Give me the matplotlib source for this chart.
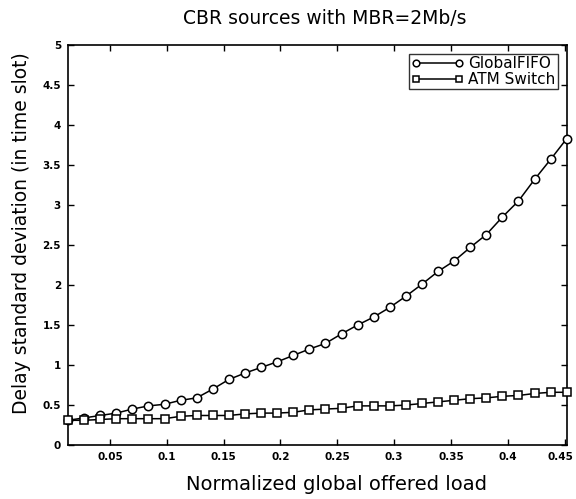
import matplotlib
matplotlib.use("Agg")
import matplotlib.pyplot as plt
import matplotlib.transforms as mtransforms

load = [0.0131, 0.0273, 0.0414, 0.0556, 0.0697, 0.0839, 0.0980, 0.1122,
        0.1263, 0.1405, 0.1546, 0.1688, 0.1829, 0.1971, 0.2112, 0.2254,
        0.2395, 0.2537, 0.2678, 0.2820, 0.2961, 0.3103, 0.3244, 0.3386,
        0.3527, 0.3669, 0.3810, 0.3952, 0.4093, 0.4235, 0.4376, 0.4518]
global_fifo = [0.31, 0.34, 0.37, 0.40, 0.45, 0.49, 0.51, 0.56,
               0.59, 0.70, 0.82, 0.90, 0.97, 1.04, 1.12, 1.20,
               1.27, 1.39, 1.50, 1.60, 1.72, 1.86, 2.01, 2.17,
               2.30, 2.47, 2.63, 2.85, 3.05, 3.32, 3.57, 3.83]
atm_switch = [0.31, 0.31, 0.32, 0.33, 0.33, 0.33, 0.33, 0.36,
              0.37, 0.37, 0.37, 0.39, 0.40, 0.40, 0.41, 0.44,
              0.45, 0.46, 0.49, 0.49, 0.49, 0.50, 0.52, 0.54,
              0.56, 0.58, 0.59, 0.61, 0.62, 0.645, 0.66, 0.66]
xticks = [0.05, 0.1, 0.15, 0.2, 0.25, 0.3, 0.35, 0.4, 0.45]
yticks = [0, 0.5, 1, 1.5, 2, 2.5, 3, 3.5, 4, 4.5, 5]

plt.rcParams['font.family'] = ['DejaVu Sans']
fig = plt.figure(figsize=(5.76, 4.99), dpi=100)
ax = fig.add_axes([0.118, 0.108, 0.866, 0.802])

ax.plot(load, global_fifo, '-o', color='black', lw=1.1, ms=6,
        mfc='white', mec='black', mew=1.1, label='GlobalFIFO', clip_on=False, zorder=3)
ax.plot(load, atm_switch, '-s', color='black', lw=1.1, ms=5.5,
        mfc='white', mec='black', mew=1.1, label='ATM Switch', clip_on=False, zorder=3)

ax.set_xlim(load[0], load[-1])
ax.set_ylim(0, 5)
ax.set_xticks(xticks)
ax.set_xticklabels([f"{t:g}" for t in xticks])
ax.set_yticks(yticks)
ax.set_yticklabels([f"{t:g}" for t in yticks])
ax.tick_params(direction='in', top=True, right=True, length=4, width=1,
               labelsize=7.5, pad=5)
xlabels = ax.get_xticklabels()
for lab in xlabels + ax.get_yticklabels():
    lab.set_fontweight('bold')
# nudge the last x tick label slightly left so it stays inside the figure
shift = mtransforms.ScaledTranslation(-4 / 100, 0, fig.dpi_scale_trans)
xlabels[-1].set_transform(xlabels[-1].get_transform() + shift)
for sp in ax.spines.values():
    sp.set_linewidth(1.2)

fig.text(325 / 576, 1 - 18 / 499, 'CBR sources with MBR=2Mb/s', fontsize=13.5,
         ha='center', va='center')
ax.set_xlabel('Normalized global offered load', fontsize=14)
ax.xaxis.set_label_coords(0.539, -0.075)
ax.set_ylabel('Delay standard deviation (in time slot)', fontsize=13.5)
ax.yaxis.set_label_coords(-0.075, 0.53)

leg = ax.legend(loc='upper right', numpoints=2, fontsize=11, frameon=True,
                fancybox=False, edgecolor='black', handlelength=3.4,
                borderpad=0.15, labelspacing=0.05, handletextpad=0.3,
                borderaxespad=0.6, markerscale=0.8)
leg.get_frame().set_linewidth(1.0)

fig.savefig('out.png', dpi=100)
